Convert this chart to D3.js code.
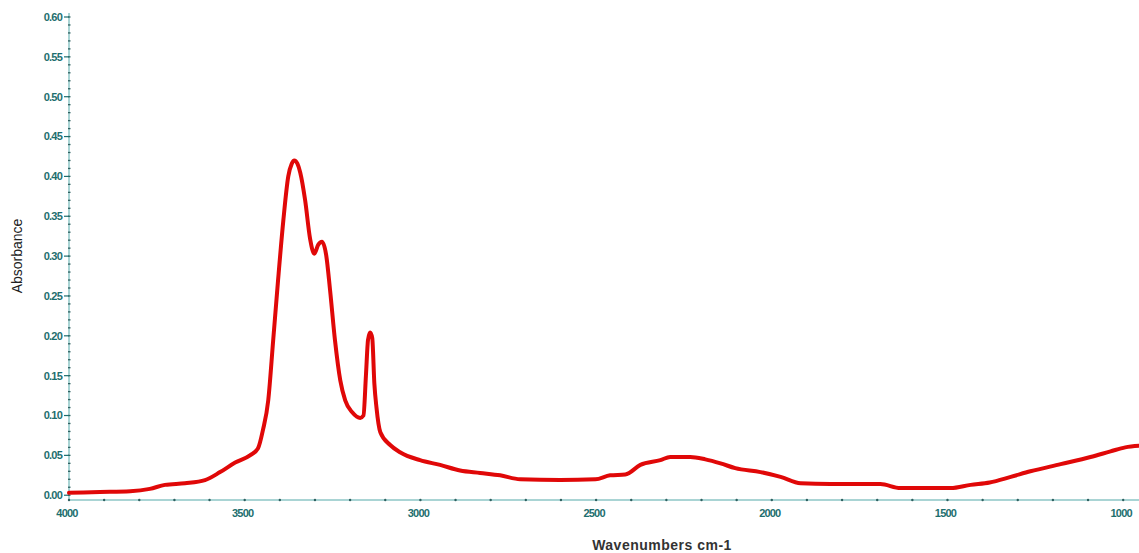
<!DOCTYPE html>
<html>
<head>
<meta charset="utf-8">
<script src="https://cdn.jsdelivr.net/npm/d3@7"></script>
<style>
  body { margin: 0; background: #fff; }
  svg { display: block; font-family: "Liberation Sans", Arial, sans-serif; }
</style>
</head>
<body>
<div id="spectrum"></div>
<script>
// spectrum: wavenumber (cm-1) and absorbance
const wavenumbers = [4000, 3912, 3826, 3770, 3727, 3670, 3613, 3570, 3527, 3485, 3462, 3448, 3433, 3419, 3405, 3390, 3376, 3366, 3359, 3350, 3342, 3328, 3314, 3302, 3291, 3280, 3268, 3257, 3243, 3228, 3214, 3194, 3171, 3162, 3155, 3149, 3143, 3137, 3131, 3125, 3114, 3086, 3058, 3001, 2944, 2887, 2830, 2773, 2716, 2602, 2502, 2460, 2417, 2374, 2317, 2289, 2232, 2189, 2146, 2104, 2032, 1975, 1918, 1833, 1691, 1634, 1491, 1434, 1380, 1320, 1264, 1178, 1093, 1036, 994, 953];
const absorbance  = [0.003, 0.004, 0.005, 0.008, 0.013, 0.015, 0.019, 0.029, 0.041, 0.050, 0.059, 0.082, 0.119, 0.194, 0.270, 0.345, 0.400, 0.416, 0.420, 0.416, 0.405, 0.370, 0.322, 0.303, 0.314, 0.318, 0.301, 0.257, 0.194, 0.144, 0.119, 0.104, 0.097, 0.100, 0.150, 0.195, 0.204, 0.197, 0.140, 0.110, 0.079, 0.063, 0.054, 0.044, 0.038, 0.031, 0.028, 0.025, 0.020, 0.019, 0.020, 0.025, 0.026, 0.038, 0.044, 0.048, 0.048, 0.045, 0.040, 0.034, 0.029, 0.023, 0.015, 0.014, 0.014, 0.009, 0.009, 0.013, 0.016, 0.023, 0.030, 0.039, 0.048, 0.055, 0.060, 0.062];

const xTicks = [4000, 3500, 3000, 2500, 2000, 1500, 1000];
const yTicks = [0.00, 0.05, 0.10, 0.15, 0.20, 0.25, 0.30, 0.35, 0.40, 0.45, 0.50, 0.55, 0.60];

const width = 1139, height = 553;

const svg = d3.select("#spectrum")
    .append("svg")
    .attr("width", width)
    .attr("height", height);

// axes: 4000 at x=69, 500 cm-1 ~ 176 px
const x = d3.scaleLinear()
    .domain([4000, 955])
    .range([69, 1139]);

const y = d3.scaleLinear()
    .domain([-0.006, 0.60])
    .range([500, 17]);

const teal = "#1d6e6e";
const axisLine = "#8cc6c6";

// y axis line
svg.append("line")
    .attr("x1", x(4000)).attr("x2", x(4000))
    .attr("y1", y(0.605)).attr("y2", y(-0.006))
    .attr("stroke", axisLine).attr("stroke-width", 1.5);

// y minor ticks every 0.01
svg.selectAll(".yminor")
    .data(d3.range(0, 61).map(i => i / 100))
    .join("line")
    .attr("x1", x(4000) - 1).attr("x2", x(4000) + 1.5)
    .attr("y1", d => y(d)).attr("y2", d => y(d))
    .attr("stroke", "#2f6060").attr("stroke-width", 1.3);

// y major ticks + labels
const yg = svg.selectAll(".ytick")
    .data(yTicks)
    .join("g")
    .attr("transform", d => `translate(${x(4000)},${y(d)})`);
yg.append("line")
    .attr("x1", -5).attr("x2", 0)
    .attr("stroke", teal).attr("stroke-width", 1.2);
yg.append("text")
    .attr("x", -7).attr("dy", "0.35em")
    .attr("text-anchor", "end")
    .attr("font-size", 11)
    .attr("font-weight", "bold")
    .attr("fill", teal)
    .attr("letter-spacing", "-0.8px")
    .text(d => d.toFixed(2));

// x axis line
svg.append("line")
    .attr("x1", x(4000)).attr("x2", width)
    .attr("y1", y(-0.006)).attr("y2", y(-0.006))
    .attr("stroke", axisLine).attr("stroke-width", 1.5);

// x minor ticks every 100
svg.selectAll(".xminor")
    .data(d3.range(4000, 950, -100))
    .join("circle")
    .attr("cx", d => x(d)).attr("cy", y(-0.006))
    .attr("r", 1.2)
    .attr("fill", "#2f6060");

svg.selectAll(".xlabel")
    .data(xTicks)
    .join("text")
    .attr("x", d => x(d) - 2)
    .attr("y", 517)
    .attr("text-anchor", "middle")
    .attr("font-size", 11)
    .attr("font-weight", "bold")
    .attr("fill", teal)
    .attr("letter-spacing", "-0.8px")
    .text(d => d);

// axis titles
svg.append("text")
    .attr("transform", "translate(22,256) rotate(-90)")
    .attr("text-anchor", "middle")
    .attr("font-size", 14)
    .attr("fill", "#222")
    .text("Absorbance");

svg.append("text")
    .attr("x", 662).attr("y", 550)
    .attr("text-anchor", "middle")
    .attr("font-size", 14)
    .attr("font-weight", "bold")
    .attr("letter-spacing", "0.5px")
    .attr("fill", "#333")
    .text("Wavenumbers cm-1");

// spectrum line
const points = wavenumbers.map((w, i) => [w, absorbance[i]]);
const line = d3.line()
    .x(d => x(d[0]))
    .y(d => y(d[1]))
    .curve(d3.curveMonotoneX);

svg.append("path")
    .datum(points)
    .attr("d", line)
    .attr("fill", "none")
    .attr("stroke", "#e00808")
    .attr("stroke-width", 4)
    .attr("stroke-linejoin", "round")
    .attr("stroke-linecap", "round");
</script>
</body>
</html>
